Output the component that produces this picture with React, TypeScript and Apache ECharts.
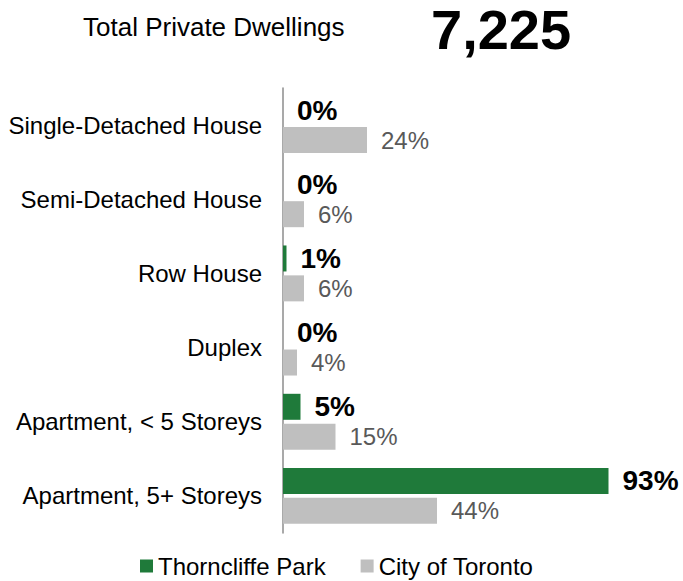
import React, { useEffect, useRef } from "react";
import * as echarts from "echarts";

const categories = [
  "Single-Detached House",
  "Semi-Detached House",
  "Row House",
  "Duplex",
  "Apartment, < 5 Storeys",
  "Apartment, 5+ Storeys",
];
const thorncliffe = [0, 0, 1, 0, 5, 93];
const toronto = [24, 6, 6, 4, 15, 44];
const titleText = "Total Private Dwellings";
const totalText = "7,225";

export default function App() {
  const ref = useRef<HTMLDivElement>(null);
  useEffect(() => {
    if (!ref.current) return;
    const chart = echarts.init(ref.current, null, { renderer: "svg" });
    const font = "Arial";
    chart.setOption({
      animation: false,
      textStyle: { fontFamily: font },
      graphic: [
        {
          type: "text",
          x: 83,
          y: 27,
          style: {
            text: titleText,
            fontSize: 26,
            fill: "#000",
            fontFamily: font,
            verticalAlign: "middle",
          },
        },
        {
          type: "text",
          x: 431,
          y: 29,
          style: {
            text: totalText,
            fontSize: 56,
            lineHeight: 50,
            fontWeight: "bold",
            fill: "#000",
            fontFamily: font,
            verticalAlign: "middle",
          },
        },
      ],
      legend: {
        bottom: -2,
        left: 135,
        itemWidth: 13,
        itemHeight: 13,
        itemGap: 35,
        icon: "rect",
        textStyle: { fontSize: 24, color: "#000", fontFamily: font },
        data: ["Thorncliffe Park", "City of Toronto"],
      },
      grid: { left: 283, top: 88, height: 445, right: 50, containLabel: false },
      xAxis: { type: "value", min: 0, max: 100, show: false },
      yAxis: {
        type: "category",
        data: categories,
        inverse: true,
        axisLine: { show: true, lineStyle: { color: "#8c8c8c", width: 1.5 } },
        axisTick: { show: false },
        axisLabel: { fontSize: 24, color: "#000", margin: 21, fontFamily: font },
      },
      series: [
        {
          name: "Thorncliffe Park",
          type: "bar",
          data: thorncliffe,
          barWidth: 26,
          barGap: "15%",
          itemStyle: { color: "#1f7a3a" },
          label: {
            show: true,
            position: "right",
            distance: 14,
            formatter: "{c}%",
            fontSize: 28,
            fontWeight: "bold",
            color: "#000",
            fontFamily: font,
          },
        },
        {
          name: "City of Toronto",
          type: "bar",
          data: toronto,
          barWidth: 26,
          itemStyle: { color: "#bfbfbf" },
          label: {
            show: true,
            position: "right",
            distance: 14,
            formatter: "{c}%",
            fontSize: 24,
            color: "#595959",
            fontFamily: font,
          },
        },
      ],
    });
    return () => chart.dispose();
  }, []);
  return (
    <div
      ref={ref}
      style={{ position: "fixed", left: 0, top: 0, width: 683, height: 581, background: "#fff" }}
    />
  );
}
